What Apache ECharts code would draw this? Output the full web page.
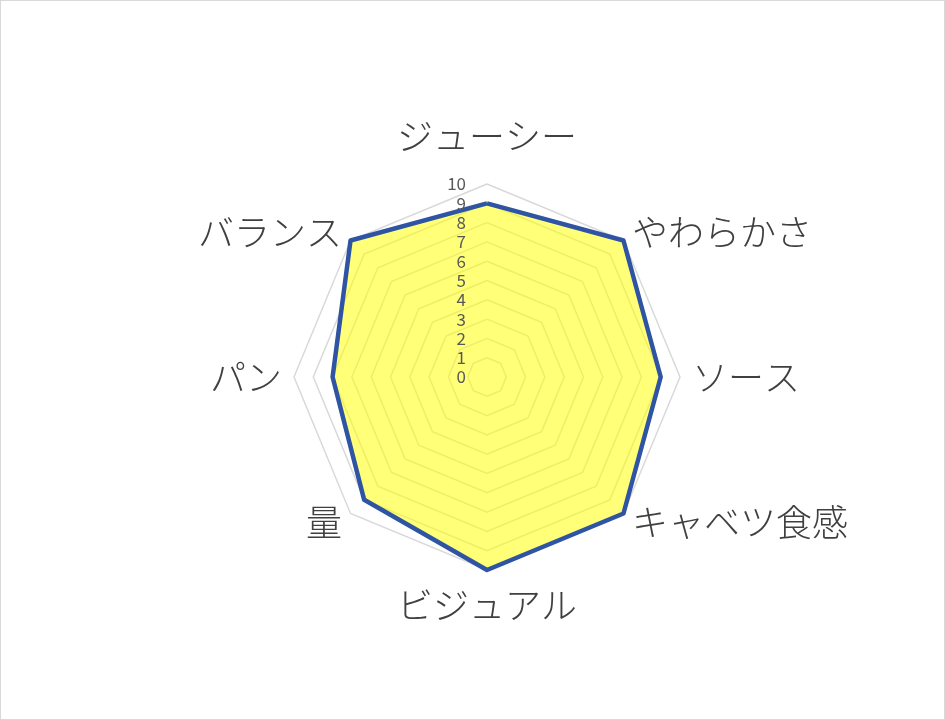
<!DOCTYPE html>
<html><head><meta charset="utf-8">
<script src="https://cdn.jsdelivr.net/npm/echarts@6/dist/echarts.min.js"></script>
<style>
html,body{margin:0;padding:0;background:#fff;}
#c{width:943px;height:718px;border:1px solid #d9d9d9;}
</style></head>
<body><div id="c"></div>
<script>
// clockwise order starting from top
const categories = ['ジューシー','やわらかさ','ソース','キャベツ食感','ビジュアル','量','パン','バランス'];
const values = [9, 10, 9, 10, 10, 9, 8, 10];
const axisMax = 10;
const tickLabels = ['0','1','2','3','4','5','6','7','8','9','10'];

// ECharts radar goes counter-clockwise: reorder
const order = [0,7,6,5,4,3,2,1];
const gaps = {'ジューシー':30,'やわらかさ':12,'ソース':12,'キャベツ食感':12,'ビジュアル':17,'量':12,'パン':12,'バランス':12};
const makeIndicators = (labels) => order.map((i,k)=>{
  const o = {name: categories[i], max: axisMax, min: 0, nameGap: gaps[categories[i]]};
  if (!labels || k !== 0) o.axisLabel = {show:false};
  return o;
});
const data = order.map(i=>values[i]);

const common = {center:[486,376], radius:193, startAngle:90, splitNumber:10, shape:'polygon',
  axisLine:{show:false}, axisTick:{show:false}, splitArea:{show:false}};

const chart = echarts.init(document.getElementById('c'));
chart.setOption({
  animation:false,
  radar:[
    Object.assign({}, common, {
      z:0,
      indicator: makeIndicators(false),
      axisName:{color:'#404040', fontSize:36, fontWeight:300, fontFamily:'"Noto Sans CJK JP"'},
      splitLine:{lineStyle:{color:'#d9d9d9', width:1.5}},
      axisLabel:{show:false}
    }),
    Object.assign({}, common, {
      z:10,
      indicator: makeIndicators(true),
      axisName:{show:false},
      splitLine:{show:false},
      axisLabel:{show:true, color:'#595959', fontSize:17, fontFamily:'"Noto Sans CJK JP"', margin:21,
        formatter:(v)=>tickLabels[Math.round(v)]}
    })
  ],
  series:[{
    type:'radar',
    radarIndex:0,
    symbol:'none',
    data:[
      {value:data, lineStyle:{width:0, opacity:0}, areaStyle:{color:'#ffff00', opacity:0.53}},
      {value:data, lineStyle:{color:'#2E54A3', width:4.5}}
    ]
  }]
});
</script></body></html>
